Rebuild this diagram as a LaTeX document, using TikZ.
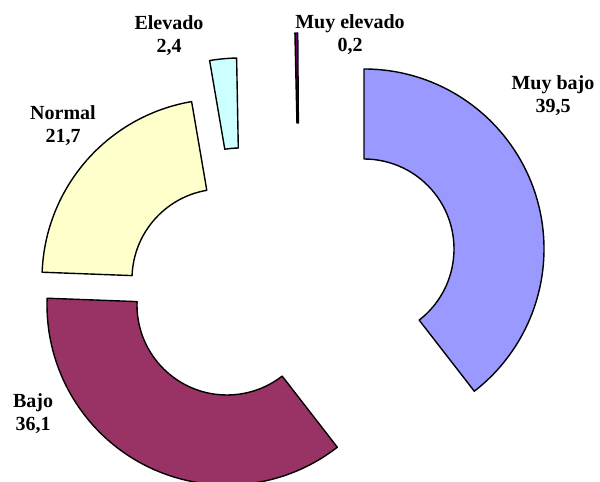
\documentclass[tikz,border=0pt]{standalone}
\usepackage{fontspec}
\setmainfont{Liberation Serif}
\definecolor{muybajo}{HTML}{9999FF}
\definecolor{bajo}{HTML}{993366}
\definecolor{normal}{HTML}{FFFFCC}
\definecolor{elevado}{HTML}{CCFFFF}
\definecolor{muyelevado}{HTML}{660066}
\begin{document}
\begin{tikzpicture}[x=1pt, y=1pt,
      slice/.style = {draw=black, line width=1.4pt, line join=round},
      tag/.style = {align=center, inner sep=0pt,
        font=\fontsize{20}{23}\selectfont\bfseries}]
  \useasboundingbox (0,0) rectangle (600,482);
  % each ring piece is pulled out from its own centre
  \foreach \cx/\cy/\from/\to/\col in {364/233/90/-52.2/muybajo,
      227/177/-52.2/-182.16/bajo, 222/203/177.84/99.72/normal,
      240/244/99.72/91.08/elevado, 299/269/91.3/90.4/muyelevado}
    \filldraw[slice, fill=\col, shift={(\cx,\cy)}]
      (\from:90) -- (\from:180) arc[start angle=\from, end angle=\to, radius=180]
      -- (\to:90) arc[start angle=\to, end angle=\from, radius=90] -- cycle;
  \node[tag] (muybajo) at (553,386) {Muy bajo\\39,5};
  \node[tag] (bajo) at (33,68) {Bajo\\36,1};
  \node[tag] (normal) at (63,356) {Normal\\21,7};
  \node[tag] (elevado) at (169,446) {Elevado\\2,4};
  \node[tag] (muyelevado) at (350,447) {Muy elevado\\0,2};
\end{tikzpicture}
\end{document}
